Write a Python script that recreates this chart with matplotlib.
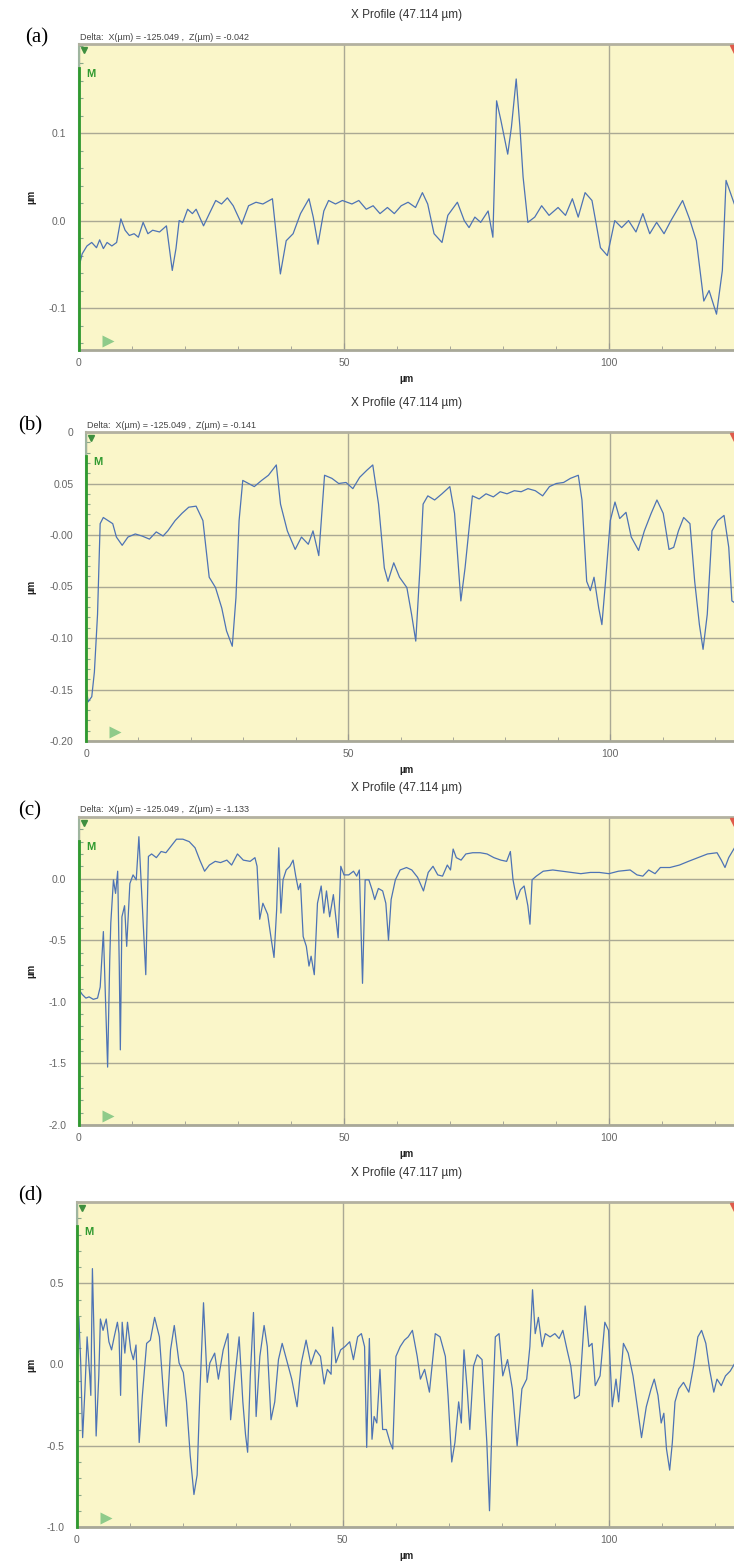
import matplotlib.pyplot as plt
from matplotlib.ticker import MultipleLocator
from matplotlib.transforms import blended_transform_factory

W, H = 734, 1567

# ---- profile data (x in um, z in um) ----
a_x = [0, 0.6, 1.5, 2.4, 3.3, 3.9, 4.6, 5.3, 6.2, 7.1, 7.9, 8.7, 9.5, 10.4, 11.2, 12.1, 13.0, 13.9,
       15.2, 16.5, 17.6, 18.3, 18.9, 19.6, 20.5, 21.4, 22.1, 23.5, 24.6, 25.8, 26.9, 28.0, 29.1, 30.7,
       32.0, 33.4, 34.7, 36.5, 38.0, 39.1, 40.4, 41.8, 43.4, 44.2, 45.1, 46.2, 47.1, 48.4, 49.7, 51.5,
       52.8, 54.2, 55.5, 56.8, 58.2, 59.5, 60.8, 62.1, 63.5, 64.8, 65.8, 67.0, 68.5, 69.6, 71.4, 72.7,
       73.6, 74.7, 75.8, 77.2, 78.1, 78.8, 79.6, 80.9, 81.6, 82.5, 83.2, 83.8, 84.7, 86.0, 87.3, 88.7,
       90.4, 91.8, 93.1, 94.2, 95.5, 96.8, 98.4, 99.7, 101.1, 102.4, 103.7, 105.1, 106.4, 107.7, 109.0,
       110.4, 111.7, 113.9, 115.2, 116.5, 117.9, 118.9, 120.3, 121.4, 122.1, 123.2, 123.9]
a_z = [-0.053, -0.038, -0.029, -0.025, -0.031, -0.022, -0.032, -0.025, -0.029, -0.025, 0.002, -0.011,
       -0.017, -0.015, -0.019, -0.002, -0.015, -0.011, -0.013, -0.006, -0.057, -0.032, 0.0, -0.002,
       0.013, 0.008, 0.013, -0.006, 0.008, 0.023, 0.019, 0.026, 0.017, -0.004, 0.017, 0.021, 0.019,
       0.025, -0.061, -0.023, -0.015, 0.008, 0.025, 0.004, -0.027, 0.011, 0.023, 0.019, 0.023, 0.019,
       0.023, 0.013, 0.017, 0.008, 0.015, 0.008, 0.017, 0.021, 0.015, 0.032, 0.019, -0.015, -0.025,
       0.006, 0.021, 0.0, -0.008, 0.004, -0.002, 0.011, -0.019, 0.137, 0.115, 0.076, 0.107, 0.162,
       0.107, 0.050, -0.002, 0.004, 0.017, 0.006, 0.015, 0.006, 0.025, 0.004, 0.032, 0.023, -0.031,
       -0.040, 0.0, -0.008, 0.0, -0.013, 0.008, -0.015, -0.002, -0.015, 0.0, 0.023, 0.002, -0.023,
       -0.092, -0.080, -0.107, -0.057, 0.046, 0.027, 0.015]

b_x = [0, 0.4, 1.1, 1.6, 2.2, 2.7, 3.3, 4.2, 5.1, 5.8, 6.9, 8.0, 9.4, 10.7, 12.1, 13.4, 14.7, 15.6,
       17.0, 18.3, 19.6, 21.0, 22.3, 23.5, 24.7, 25.9, 26.8, 27.9, 28.6, 29.2, 29.9, 31.0, 32.1, 33.5,
       34.8, 36.3, 37.1, 38.4, 39.9, 41.1, 42.4, 43.3, 44.4, 45.5, 46.9, 48.2, 49.6, 50.9, 52.2, 53.6,
       54.7, 55.8, 56.9, 57.6, 58.7, 59.8, 61.2, 62.1, 62.9, 63.7, 64.3, 65.2, 66.5, 67.9, 69.4, 70.3,
       71.5, 72.3, 73.7, 75.0, 76.3, 77.7, 79.0, 80.3, 81.7, 83.0, 84.3, 85.7, 87.1, 88.4, 89.7, 91.1,
       92.4, 93.9, 94.6, 95.5, 96.2, 96.9, 97.8, 98.4, 99.1, 100.0, 100.9, 101.8, 103.0, 104.0, 105.4,
       106.5, 107.8, 108.9, 110.1, 111.2, 112.1, 113.0, 114.0, 115.2, 116.1, 117.0, 117.7, 118.5,
       119.4, 120.5, 121.7, 122.6, 123.2, 123.8]
b_z = [-0.146, -0.162, -0.157, -0.133, -0.077, 0.011, 0.017, 0.014, 0.011, -0.002, -0.010, -0.002,
       0.001, -0.001, -0.004, 0.003, -0.001, 0.004, 0.014, 0.021, 0.027, 0.028, 0.014, -0.041, -0.051,
       -0.071, -0.093, -0.108, -0.061, 0.014, 0.053, 0.050, 0.047, 0.053, 0.058, 0.068, 0.030, 0.004,
       -0.014, -0.002, -0.009, 0.004, -0.020, 0.058, 0.055, 0.050, 0.051, 0.045, 0.056, 0.063, 0.068,
       0.030, -0.032, -0.045, -0.027, -0.041, -0.051, -0.077, -0.103, -0.032, 0.030, 0.038, 0.034,
       0.040, 0.047, 0.021, -0.064, -0.032, 0.038, 0.035, 0.040, 0.037, 0.042, 0.040, 0.043, 0.042,
       0.045, 0.043, 0.038, 0.047, 0.050, 0.051, 0.055, 0.058, 0.034, -0.045, -0.054, -0.041, -0.071,
       -0.087, -0.045, 0.014, 0.032, 0.016, 0.022, -0.002, -0.015, 0.004, 0.021, 0.034, 0.021, -0.014,
       -0.012, 0.004, 0.017, 0.011, -0.045, -0.087, -0.111, -0.077, 0.004, 0.014, 0.019, -0.012,
       -0.064, -0.066]

c_x = [0, 0.6, 1.3, 1.9, 2.7, 3.5, 4.0, 4.6, 5.1, 5.4, 5.8, 6.0, 6.5, 6.9, 7.3, 7.6, 7.8, 8.1, 8.6,
       9.0, 9.6, 10.2, 10.8, 11.3, 11.9, 12.6, 13.1, 13.7, 14.6, 15.5, 16.4, 17.3, 18.4, 19.6, 20.8,
       21.9, 22.8, 23.7, 24.6, 25.7, 26.7, 27.9, 28.8, 29.9, 31.0, 32.3, 33.2, 33.6, 34.1, 34.7, 35.6,
       36.3, 36.8, 37.3, 37.7, 38.1, 38.5, 39.1, 39.8, 40.4, 40.9, 41.4, 41.8, 42.3, 42.9, 43.4, 43.8,
       44.4, 45.0, 45.7, 46.2, 46.7, 47.3, 48.0, 48.5, 48.9, 49.4, 50.0, 50.9, 51.8, 52.4, 52.9, 53.5,
       54.0, 54.7, 55.3, 55.8, 56.5, 57.3, 57.9, 58.4, 58.9, 59.7, 60.6, 61.8, 62.8, 63.9, 65.0, 65.9,
       66.8, 67.7, 68.6, 69.5, 70.1, 70.6, 71.2, 72.1, 73.0, 74.3, 75.7, 77.0, 78.3, 79.6, 80.7, 81.4,
       81.9, 82.6, 83.3, 84.0, 84.7, 85.1, 85.5, 86.3, 87.6, 89.4, 91.2, 92.9, 94.7, 96.5, 98.2, 100.0,
       101.8, 104.0, 105.3, 106.4, 107.5, 108.7, 109.7, 111.5, 113.3, 115.0, 116.8, 118.6, 120.4,
       121.2, 121.9, 122.6, 123.7]
c_z = [-0.90, -0.94, -0.97, -0.96, -0.98, -0.97, -0.88, -0.43, -1.12, -1.53, -0.66, -0.36, -0.01,
       -0.12, 0.06, -0.71, -1.39, -0.31, -0.22, -0.55, -0.04, 0.03, -0.01, 0.34, -0.17, -0.78, 0.18,
       0.20, 0.17, 0.22, 0.21, 0.26, 0.32, 0.32, 0.30, 0.25, 0.15, 0.06, 0.11, 0.14, 0.13, 0.15, 0.11,
       0.20, 0.15, 0.14, 0.17, 0.10, -0.33, -0.20, -0.29, -0.50, -0.64, -0.25, 0.25, -0.28, -0.01,
       0.07, 0.10, 0.15, 0.02, -0.09, -0.04, -0.47, -0.55, -0.71, -0.63, -0.78, -0.20, -0.06, -0.28,
       -0.10, -0.31, -0.13, -0.33, -0.48, 0.10, 0.03, 0.03, 0.06, 0.02, 0.07, -0.85, -0.01, -0.01,
       -0.09, -0.17, -0.08, -0.10, -0.20, -0.50, -0.17, -0.01, 0.07, 0.09, 0.07, 0.01, -0.10, 0.05,
       0.10, 0.03, 0.02, 0.11, 0.07, 0.24, 0.17, 0.15, 0.20, 0.21, 0.21, 0.20, 0.17, 0.15, 0.14, 0.22,
       -0.01, -0.17, -0.09, -0.06, -0.22, -0.37, -0.01, 0.02, 0.06, 0.07, 0.06, 0.05, 0.04, 0.05, 0.05,
       0.04, 0.06, 0.07, 0.03, 0.02, 0.07, 0.04, 0.09, 0.09, 0.11, 0.14, 0.17, 0.20, 0.21, 0.15, 0.09,
       0.17, 0.25]

d_x = [0, 0.35, 0.7, 1.06, 1.5, 1.9, 2.4, 2.6, 2.9, 3.3, 3.6, 4.1, 4.4, 4.9, 5.5, 6.0, 6.5, 7.0, 7.6,
       7.9, 8.2, 8.5, 9.0, 9.5, 10.1, 10.6, 11.1, 11.7, 12.3, 13.1, 13.8, 14.6, 15.5, 16.2, 16.8, 17.6,
       18.3, 19.2, 20.0, 20.6, 21.3, 22.0, 22.6, 23.1, 23.8, 24.5, 25.0, 25.9, 26.6, 27.5, 28.4, 28.9,
       29.6, 30.5, 31.2, 31.7, 32.1, 32.6, 33.2, 33.7, 34.4, 35.2, 35.8, 36.5, 37.2, 37.9, 38.6, 39.5,
       40.4, 41.4, 42.2, 43.1, 44.0, 44.9, 45.8, 46.5, 47.1, 47.8, 48.1, 48.7, 49.6, 50.4, 51.3, 52.0,
       52.8, 53.5, 54.1, 54.5, 55.0, 55.5, 55.9, 56.4, 57.0, 57.5, 58.2, 58.9, 59.4, 60.0, 60.8, 61.6,
       62.3, 63.1, 64.0, 64.6, 65.4, 66.3, 67.4, 68.3, 69.3, 69.8, 70.5, 71.1, 71.8, 72.3, 72.8, 73.4,
       73.9, 74.6, 75.3, 76.2, 77.1, 77.6, 78.1, 78.7, 79.4, 80.1, 81.0, 81.9, 82.8, 83.7, 84.6, 85.2,
       85.7, 86.2, 86.8, 87.5, 88.1, 89.0, 89.9, 90.7, 91.4, 92.2, 92.9, 93.6, 94.5, 95.6, 96.3, 96.9,
       97.5, 98.4, 99.3, 100.0, 100.7, 101.4, 101.9, 102.8, 103.7, 104.6, 105.5, 106.2, 107.1, 108.0,
       108.6, 109.3, 109.9, 110.4, 110.9, 111.5, 112.0, 112.5, 113.2, 114.1, 115.1, 116.0, 116.8,
       117.5, 118.3, 119.0, 119.8, 120.4, 121.2, 122.0, 122.9, 123.8]
d_z = [-0.01, 0.29, 0.01, -0.45, -0.15, 0.17, -0.07, -0.19, 0.59, 0.05, -0.44, -0.07, 0.28, 0.21,
       0.28, 0.14, 0.09, 0.17, 0.26, 0.19, -0.19, 0.26, 0.07, 0.26, 0.09, 0.03, 0.12, -0.48, -0.19,
       0.13, 0.15, 0.29, 0.17, -0.15, -0.38, 0.09, 0.24, 0.01, -0.05, -0.23, -0.56, -0.80, -0.68,
       -0.19, 0.38, -0.11, 0.01, 0.07, -0.09, 0.09, 0.19, -0.34, -0.11, 0.17, -0.23, -0.43, -0.54,
       -0.07, 0.32, -0.32, 0.05, 0.24, 0.11, -0.34, -0.23, 0.03, 0.13, 0.02, -0.09, -0.26, 0.01, 0.15,
       0.0, 0.09, 0.05, -0.12, -0.03, -0.06, 0.23, 0.01, 0.09, 0.11, 0.14, 0.03, 0.17, 0.19, 0.11,
       -0.51, 0.16, -0.46, -0.32, -0.36, -0.03, -0.40, -0.40, -0.48, -0.52, 0.05, 0.11, 0.15, 0.17,
       0.21, 0.05, -0.09, -0.03, -0.17, 0.19, 0.17, 0.05, -0.19, -0.60, -0.48, -0.23, -0.36, 0.09,
       -0.15, -0.40, -0.01, 0.06, 0.03, -0.48, -0.90, -0.34, 0.17, 0.19, -0.07, 0.03, -0.15, -0.50,
       -0.15, -0.09, 0.11, 0.46, 0.19, 0.29, 0.11, 0.19, 0.17, 0.19, 0.16, 0.21, 0.09, -0.01, -0.21,
       -0.19, 0.36, 0.11, 0.13, -0.13, -0.07, 0.26, 0.21, -0.26, -0.09, -0.23, 0.13, 0.07, -0.07,
       -0.28, -0.45, -0.26, -0.15, -0.09, -0.19, -0.36, -0.30, -0.52, -0.65, -0.48, -0.23, -0.15,
       -0.11, -0.17, -0.01, 0.17, 0.21, 0.13, -0.03, -0.17, -0.09, -0.13, -0.07, -0.04, 0.01]

a_ticks = [0.1, 0.0, -0.1]
a_labels = ["0.1", "0.0", "-0.1"]
b_ticks = [0.10, 0.05, 0.0, -0.05, -0.10, -0.15, -0.20]
b_labels = ["0", "0.05", "-0.00", "-0.05", "-0.10", "-0.15", "-0.20"]
c_ticks = [0.0, -0.5, -1.0, -1.5, -2.0]
c_labels = ["0.0", "-0.5", "-1.0", "-1.5", "-2.0"]
d_ticks = [0.5, 0.0, -0.5, -1.0]
d_labels = ["0.5", "0.0", "-0.5", "-1.0"]

titles = ["X Profile (47.114 µm)", "X Profile (47.114 µm)", "X Profile (47.114 µm)", "X Profile (47.117 µm)"]
deltas = ["Delta:  X(µm) = -125.049 ,  Z(µm) = -0.042",
          "Delta:  X(µm) = -125.049 ,  Z(µm) = -0.141",
          "Delta:  X(µm) = -125.049 ,  Z(µm) = -1.133",
          None]
tags = ["(a)", "(b)", "(c)", "(d)"]

SANS = "Liberation Sans"
GREEN = "#2f9a2f"
BG = "#faf6c9"
GRID = "#aaa994"
LINE = "#4d73b5"

fig = plt.figure(figsize=(W / 100, H / 100), dpi=100)


def fx(px):
    return px / W


def fy(py):
    return 1 - py / H


def draw_panel(left, top, bottom, x, z, ylim, ticks, labels, minor, title, delta, tag, tag_x):
    ax = fig.add_axes([fx(left), fy(bottom), fx(W - left), (bottom - top) / H])
    hpx = bottom - top
    ax.set_facecolor(BG)
    ax.plot(x, z, color=LINE, lw=0.9, zorder=3)
    ax.set_xlim(0, 123.6)
    ax.set_ylim(*ylim)
    ax.set_yticks(ticks, labels, fontfamily=SANS)
    ax.yaxis.set_minor_locator(MultipleLocator(minor))
    ax.set_xticks([0, 50, 100], ["0", "50", "100"], fontfamily=SANS)
    ax.xaxis.set_minor_locator(MultipleLocator(10))
    ax.tick_params(axis="y", which="major", length=0, pad=9, labelsize=7.5, labelcolor="#666666")
    ax.tick_params(axis="y", which="minor", direction="in", length=3, color="#8aa88a", width=0.8)
    ax.tick_params(axis="x", which="major", direction="in", length=5, pad=6, labelsize=7.5,
                   labelcolor="#666666", color="#999990")
    ax.tick_params(axis="x", which="minor", direction="in", length=3, color="#999990")
    ax.grid(True, which="major", color=GRID, lw=1.0, zorder=1)
    ax.set_axisbelow(True)
    ax.spines["right"].set_visible(False)
    ax.spines["top"].set_color("#b3b1a0")
    ax.spines["top"].set_linewidth(2)
    ax.spines["bottom"].set_color("#a8a898")
    ax.spines["bottom"].set_linewidth(2)
    ax.spines["left"].set_color("#9fb59f")
    ax.spines["left"].set_linewidth(1.5)

    tr = blended_transform_factory(ax.transData, ax.transAxes)
    m_frac = 1 - 24 / hpx
    ax.plot([0, 0], [0, m_frac], transform=tr, color=GREEN, lw=2, clip_on=False, zorder=4)
    ax.text(1.3, 1 - 30 / hpx, "M", transform=tr, color=GREEN, fontsize=8, fontweight="bold",
            fontfamily=SANS, va="center", ha="left", zorder=5)
    ax.plot([0.9], [1 - 6 / hpx], transform=tr, marker="v", ms=5, color="#3f8f3f", clip_on=False, zorder=5)
    ax.plot([5.5], [9 / hpx], transform=tr, marker=">", ms=9, color="#8fcb8a", mec="none", zorder=5)
    ax.plot([1.0], [1 - 5 / hpx], transform=ax.transAxes, marker="v", ms=6, color="#e05a4a",
            clip_on=False, zorder=5)

    fig.text(fx(407), fy(top - 29), title, fontsize=8.5, color="#333333", fontfamily=SANS,
             ha="center", va="center")
    fig.text(fx(407), fy(bottom + 29), "µm", fontsize=7, fontweight="bold", color="#222222",
             fontfamily=SANS, ha="center", va="center")
    fig.text(fx(31), fy((top + bottom) / 2), "µm", fontsize=7, fontweight="bold", color="#222222",
             fontfamily=SANS, ha="center", va="center", rotation=90)
    if delta:
        fig.text(fx(left + 1), fy(top - 7), delta, fontsize=6.5, color="#444444", fontfamily=SANS,
                 ha="left", va="center")
    fig.text(fx(tag_x), fy(top - 6), tag, fontsize=15, color="black", fontfamily="Liberation Serif",
             ha="center", va="center")
    return ax


draw_panel(79, 44, 350, a_x, a_z, (-0.148, 0.202), a_ticks, a_labels, 0.02,
           titles[0], deltas[0], tags[0], 37)
draw_panel(86, 432, 741, b_x, b_z, (-0.20, 0.10), b_ticks, b_labels, 0.01,
           titles[1], deltas[1], tags[1], 30)
draw_panel(79, 817, 1125, c_x, c_z, (-2.0, 0.5), c_ticks, c_labels, 0.1,
           titles[2], deltas[2], tags[2], 30)
draw_panel(77, 1202, 1527, d_x, d_z, (-1.0, 1.0), d_ticks, d_labels, 0.1,
           titles[3], deltas[3], tags[3], 30)

fig.savefig("out.png", dpi=100, facecolor="white")
